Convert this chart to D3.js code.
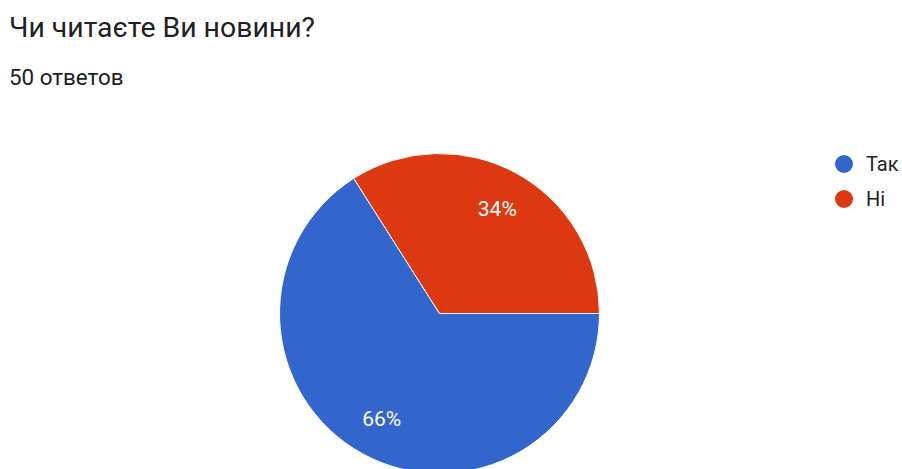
<!DOCTYPE html>
<html>
<head>
<meta charset="utf-8">
<script src="https://cdn.jsdelivr.net/npm/d3@7"></script>
<style>
  body { margin: 0; background: #fff; overflow: hidden; }
  text { font-family: Roboto, Arial, sans-serif; }
</style>
</head>
<body>
<script>
var chart = {
  'width': 902,
  'height': 469,
  'cx': 439.5,
  'cy': 313.5,
  'radius': 160
};

var title = 'Чи читаєте Ви новини?';
var subtitle = '50 ответов';
var categories = ['Так', 'Ні'];
var values = [66, 34];
var colors = ['#3366cc', '#dc3912'];

var svg = d3.select('body').append('svg')
  .attr('width', chart.width)
  .attr('height', chart.height);

svg.append('text')
  .attr('x', 9)
  .attr('y', 37)
  .attr('font-size', 28.4)
  .attr('fill', '#212121')
  .text(title);

svg.append('text')
  .attr('x', 9)
  .attr('y', 85)
  .attr('font-size', 22.4)
  .attr('fill', '#212121')
  .text(subtitle);

// pie starts at 3 o'clock, clockwise
var pie = d3.pie()
  .sort(null)
  .startAngle(Math.PI / 2)
  .endAngle(Math.PI / 2 + 2 * Math.PI);

var arcs = pie(values);

var arc = d3.arc().innerRadius(0).outerRadius(chart.radius);
var labelArc = d3.arc().innerRadius(chart.radius * 0.75).outerRadius(chart.radius * 0.75);

var g = svg.append('g')
  .attr('transform', 'translate(' + chart.cx + ',' + chart.cy + ')');

g.selectAll('path.slice')
  .data(arcs)
  .enter().append('path')
  .attr('class', 'slice')
  .attr('d', arc)
  .attr('fill', function(d, i) { return colors[i]; })
  .attr('stroke', '#fff')
  .attr('stroke-width', 1);

g.selectAll('text.pct')
  .data(arcs)
  .enter().append('text')
  .attr('class', 'pct')
  .attr('transform', function(d) { return 'translate(' + labelArc.centroid(d) + ')'; })
  .attr('text-anchor', 'middle')
  .attr('dy', '0.35em')
  .attr('font-size', 21)
  .attr('fill', '#fff')
  .text(function(d) { return d.data + '%'; });

var legend = svg.selectAll('g.legend')
  .data(categories)
  .enter().append('g')
  .attr('class', 'legend')
  .attr('transform', function(d, i) { return 'translate(844,' + (164 + i * 35) + ')'; });

legend.append('circle')
  .attr('r', 9)
  .attr('fill', function(d, i) { return colors[i]; });

legend.append('text')
  .attr('x', 22)
  .attr('dy', '0.36em')
  .attr('font-size', 20)
  .attr('fill', '#222')
  .text(function(d) { return d; });
</script>
</body>
</html>
